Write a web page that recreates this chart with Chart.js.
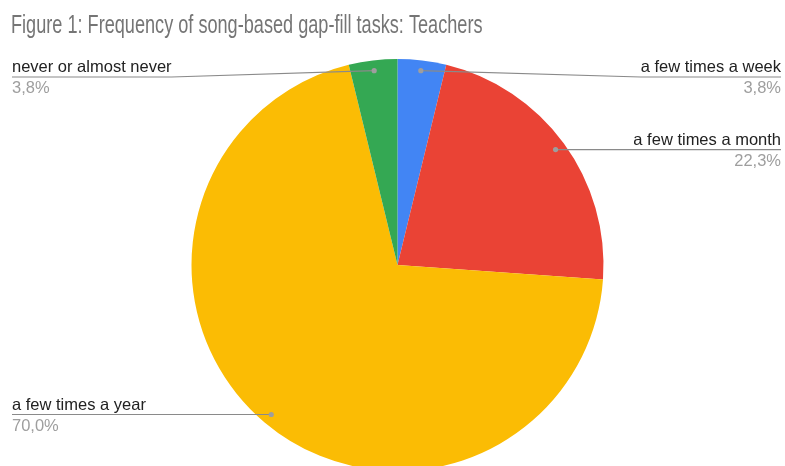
<!DOCTYPE html>
<html>
<head>
<meta charset="utf-8">
<script src="https://cdn.jsdelivr.net/npm/chart.js@4.4.1/dist/chart.umd.min.js"></script>
<style>
  html, body { margin: 0; padding: 0; background: #fff; overflow: hidden; }
  canvas { display: block; }
</style>
</head>
<body>
<canvas id="pieChart" width="785" height="480"></canvas>
<script>
const chartTitle = 'Figure 1: Frequency of song-based gap-fill tasks: Teachers';
const categories = ['a few times a week', 'a few times a month', 'a few times a year', 'never or almost never'];
const shares = [3.8, 22.3, 70.0, 3.8];
const sliceColors = ['#4285F4', '#EA4335', '#FBBC04', '#34A853'];

const FONT = 'Arial, "Liberation Sans", sans-serif';

// condensed grey title in the top-left corner
const narrowTitle = {
  id: 'narrowTitle',
  afterDraw(chart) {
    const ctx = chart.ctx;
    ctx.save();
    ctx.font = '25px ' + FONT;
    ctx.fillStyle = '#757575';
    ctx.textAlign = 'left';
    ctx.textBaseline = 'alphabetic';
    ctx.translate(11, 33);
    ctx.scale(0.725, 1);
    ctx.fillText(chartTitle, 0, 0);
    ctx.restore();
  }
};

// outside labels with a leader line ending in a small dot inside each slice
const sideLabels = {
  id: 'sideLabels',
  afterDatasetsDraw(chart) {
    const ctx = chart.ctx;
    const arcs = chart.getDatasetMeta(0).data;
    const leftX = 12, rightX = 781, topLine = 77;
    ctx.save();
    arcs.forEach((arc, i) => {
      const p = arc.getProps(['x', 'y', 'startAngle', 'endAngle', 'outerRadius'], true);
      const mid = (p.startAngle + p.endAngle) / 2;
      const r = p.outerRadius * 0.95;
      const dx = p.x + Math.cos(mid) * r;
      const dy = p.y + Math.sin(mid) * r;
      const onLeft = dx < p.x;
      const lineY = Math.max(dy, topLine);

      ctx.font = '16.5px ' + FONT;
      const textW = ctx.measureText(categories[i]).width;
      const edge = onLeft ? leftX : rightX;
      const textEnd = onLeft ? leftX + textW : rightX - textW;

      ctx.strokeStyle = '#8a8a8a';
      ctx.lineWidth = 1.2;
      ctx.beginPath();
      ctx.moveTo(edge, lineY);
      ctx.lineTo(textEnd, lineY);
      ctx.lineTo(dx, dy);
      ctx.stroke();

      ctx.fillStyle = '#9e9e9e';
      ctx.beginPath();
      ctx.arc(dx, dy, 2.6, 0, Math.PI * 2);
      ctx.fill();

      ctx.textAlign = onLeft ? 'left' : 'right';
      ctx.textBaseline = 'alphabetic';
      ctx.fillStyle = '#222222';
      ctx.fillText(categories[i], edge, lineY - 5);
      ctx.fillStyle = '#9e9e9e';
      ctx.fillText(shares[i].toFixed(1).replace('.', ',') + '%', edge, lineY + 16);
    });
    ctx.restore();
  }
};

new Chart(document.getElementById('pieChart'), {
  type: 'pie',
  data: {
    labels: categories,
    datasets: [{
      data: shares,
      backgroundColor: sliceColors,
      borderWidth: 0
    }]
  },
  options: {
    responsive: false,
    animation: false,
    layout: { padding: { top: 59, bottom: 9, left: 10, right: 0 } },
    plugins: {
      legend: { display: false },
      tooltip: { enabled: false },
      title: { display: false }
    }
  },
  plugins: [sideLabels, narrowTitle]
});
</script>
</body>
</html>
